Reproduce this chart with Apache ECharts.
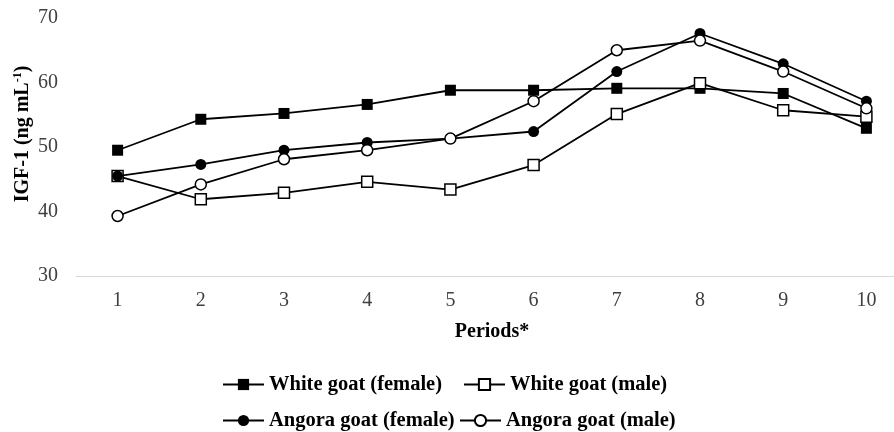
<!DOCTYPE html>
<html>
<head>
<meta charset="utf-8">
<title>IGF-1</title>
<script src="https://cdn.jsdelivr.net/npm/echarts@6/dist/echarts.min.js"></script>
<style>
html, body { margin: 0; padding: 0; background: #fff; }
#igf { width: 894px; height: 432px; }
</style>
</head>
<body>
<div id="igf"></div>
<script>
// data
var periods = ['1', '2', '3', '4', '5', '6', '7', '8', '9', '10'];
var whiteFemale = [49.5, 54.3, 55.2, 56.6, 58.8, 58.8, 59.1, 59.1, 58.3, 52.9];
var whiteMale = [45.5, 41.9, 42.9, 44.6, 43.4, 47.2, 55.1, 59.9, 55.7, 54.7];
var angoraFemale = [45.5, 47.3, 49.5, 50.7, 51.3, 52.4, 61.7, 67.6, 62.9, 57.1];
var angoraMale = [39.3, 44.2, 48.1, 49.5, 51.3, 57.1, 65.0, 66.5, 61.7, 56.0];
var names = ['White goat (female)', 'White goat (male)', 'Angora goat (female)', 'Angora goat (male)'];
var yTicks = [30, 40, 50, 60, 70];

var serif = '"Liberation Serif", "Times New Roman", serif';

function legendAt(name, left, top) {
	return {
		data: [name],
		left: left,
		top: top,
		padding: 0,
		itemWidth: 41,
		itemHeight: 14,
		itemGap: 5,
		selectedMode: false,
		textStyle: {
			fontFamily: serif,
			fontWeight: 'bold',
			fontSize: 20.5,
			color: '#000'
		}
	};
}

function lineSeries(name, data, symbol, filled) {
	return {
		name: name,
		type: 'line',
		data: data,
		symbol: symbol,
		symbolSize: 11,
		showAllSymbol: true,
		lineStyle: { color: '#000', width: 1.8 },
		itemStyle: {
			color: filled ? '#000' : '#fff',
			borderColor: '#000',
			borderWidth: filled ? 0 : 1.5
		},
		emphasis: { disabled: true }
	};
}

var igfC = echarts.init(document.getElementById('igf'));
var igf = {
	animation: false,
	backgroundColor: '#fff',
	legend: [
		legendAt(names[0], 222, 374),
		legendAt(names[1], 463, 374),
		legendAt(names[2], 222, 410),
		legendAt(names[3], 459, 410)
	],
	grid: {
		left: 76,
		top: 18,
		width: 832,
		height: 258,
		containLabel: false,
		outerBoundsMode: 'none'
	},
	xAxis: {
		type: 'category',
		data: periods,
		boundaryGap: true,
		name: 'Periods*',
		nameLocation: 'middle',
		nameGap: 46,
		nameTextStyle: {
			fontFamily: serif,
			fontWeight: 'bold',
			fontSize: 20,
			color: '#000'
		},
		axisTick: { show: false },
		axisLine: { show: true, lineStyle: { color: '#d9d9d9', width: 1 } },
		axisLabel: {
			interval: 0,
			margin: 15,
			fontFamily: serif,
			fontSize: 20,
			color: '#404040'
		},
		splitLine: { show: false }
	},
	yAxis: {
		type: 'value',
		min: yTicks[0],
		max: yTicks[yTicks.length - 1],
		interval: 10,
		name: '{b|IGF-1 (ng mL}{s|-1}{b|)}',
		nameLocation: 'middle',
		nameGap: 43,
		nameMoveOverlap: false,
		nameTextStyle: {
			padding: [0, 0, 0, 26],
			rich: {
				b: { fontFamily: serif, fontWeight: 'bold', fontSize: 20, color: '#000' },
				s: { fontFamily: serif, fontWeight: 'bold', fontSize: 12, color: '#000', padding: [0, 0, 9, 0] }
			}
		},
		axisLine: { show: false },
		axisTick: { show: false },
		splitLine: { show: false },
		axisLabel: {
			margin: 18,
			fontFamily: serif,
			fontSize: 20,
			color: '#404040'
		}
	},
	series: [
		lineSeries(names[0], whiteFemale, 'rect', true),
		lineSeries(names[1], whiteMale, 'rect', false),
		lineSeries(names[2], angoraFemale, 'circle', true),
		lineSeries(names[3], angoraMale, 'circle', false)
	]
};
igfC.setOption(igf);
</script>
</body>
</html>
